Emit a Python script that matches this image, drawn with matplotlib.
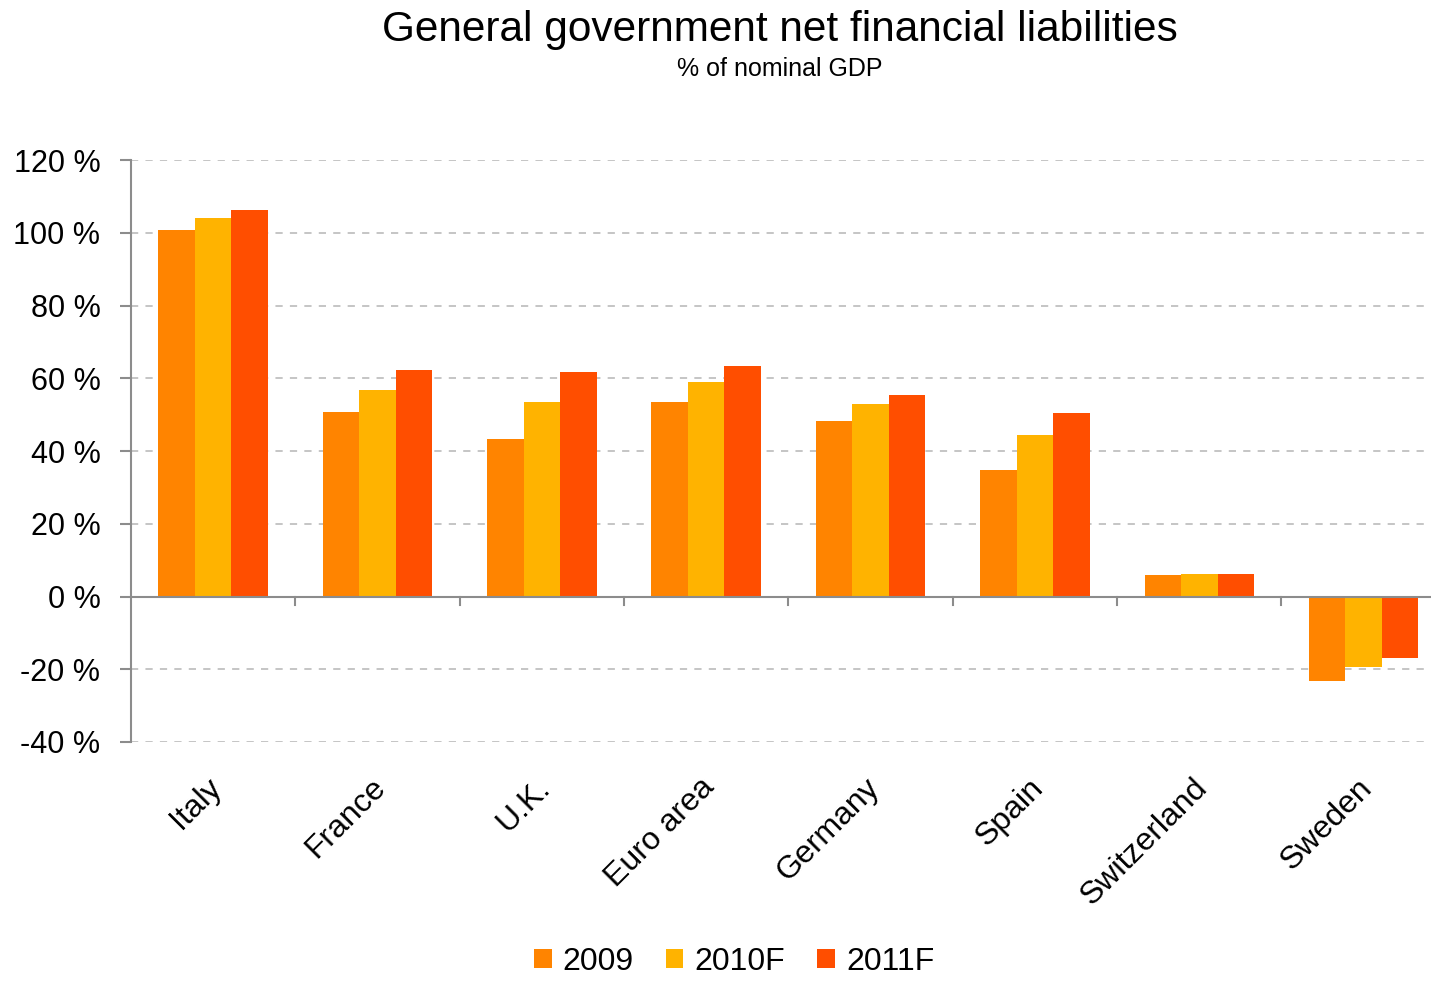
import numpy as np
import matplotlib.pyplot as plt
from matplotlib.ticker import FuncFormatter

plt.rcParams['font.family'] = ['Liberation Sans', 'DejaVu Sans']

countries = ['Italy', 'France', 'U.K.', 'Euro area', 'Germany', 'Spain', 'Switzerland', 'Sweden']
years = ['2009', '2010F', '2011F']
v2009 = [100.8, 50.8, 43.4, 53.5, 48.3, 34.9, 5.8, -23.3]
v2010 = [104.1, 56.8, 53.5, 59.0, 53.0, 44.5, 6.3, -19.5]
v2011 = [106.3, 62.3, 61.8, 63.4, 55.5, 50.5, 6.3, -16.8]
colors = ['#FF8400', '#FFB300', '#FF4E00']

fig = plt.figure(figsize=(14.31, 9.88), dpi=100)
ax = fig.add_axes([0.0915, 0.249, 0.9085, 0.589])

x = np.arange(len(countries))
w = 0.222
for i, (vals, lab) in enumerate(zip([v2009, v2010, v2011], years)):
    ax.bar(x + (i - 1) * w, vals, width=w, color=colors[i], label=lab, zorder=3)

ax.set_ylim(-40, 120)
ax.set_xlim(-0.5, 7.41)
ax.set_yticks(range(-40, 121, 20))
ax.yaxis.set_major_formatter(FuncFormatter(lambda v, p: f'{int(v)} %'))
ax.yaxis.grid(True, linestyle=(0, (4, 4)), color='#c0c0c0', linewidth=1.3, zorder=0)

for s in ['top', 'right', 'bottom']:
    ax.spines[s].set_visible(False)
ax.spines['left'].set_color('#8c8c8c')
ax.spines['left'].set_linewidth(1.5)
ax.axhline(0, color='#8c8c8c', linewidth=1.5, zorder=4)

# category separators hang below the zero line
for b in np.arange(0.5, len(countries) - 0.5, 1.0):
    ax.plot([b, b], [0, -2.4], color='#8c8c8c', linewidth=1.5, zorder=4, clip_on=False)

ax.tick_params(axis='y', length=8, width=1.5, color='#8c8c8c', labelsize=22, pad=14)
ax.tick_params(axis='x', length=0, pad=22)
ax.set_xticks(x - 0.04)
ax.set_xticklabels(countries, rotation=45, ha='right', rotation_mode='anchor', fontsize=23)

fig.text(0.545, 0.970, 'General government net financial liabilities', ha='center', va='center', fontsize=30.5)
fig.text(0.545, 0.930, '% of nominal GDP', ha='center', va='center', fontsize=18)

fig.legend(loc='lower center', bbox_to_anchor=(0.513, -0.018), ncol=3, frameon=False, fontsize=23,
           handlelength=0.55, handleheight=0.55, handletextpad=0.35, columnspacing=1.0)

fig.savefig('out.png', dpi=100)
